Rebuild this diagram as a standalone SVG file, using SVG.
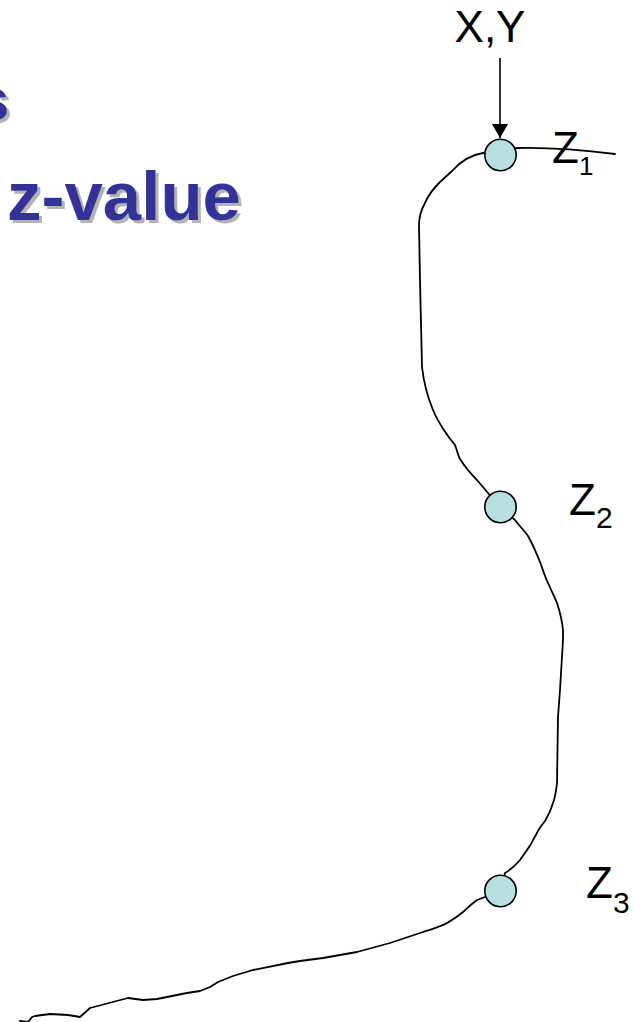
<svg xmlns="http://www.w3.org/2000/svg" width="634" height="1022" viewBox="0 0 634 1022">
<style>
.title{font-family:"Liberation Sans",Arial,sans-serif;font-weight:bold;fill:#333399;filter:url(#sh)}
.lbl{font-family:"Liberation Sans",Arial,sans-serif;fill:#000}
.node{fill:#b7dfe0;stroke:#000;stroke-width:1.6}
.curve{fill:none;stroke:#000;stroke-width:1.8;stroke-linejoin:round;stroke-linecap:round}
</style>
<defs>
<filter id="sh" x="-10%" y="-20%" width="130%" height="150%">
<feOffset in="SourceAlpha" dx="3" dy="3" result="o"/>
<feFlood flood-color="#b3b3b3"/>
<feComposite in2="o" operator="in" result="s"/>
<feMerge><feMergeNode in="s"/><feMergeNode in="SourceGraphic"/></feMerge>
</filter>
<marker id="ah" markerWidth="14" markerHeight="16" refX="14" refY="8" orient="auto" markerUnits="userSpaceOnUse" viewBox="0 0 14 16">
<path d="M0,0 L14,8 L0,16 Z" fill="#000"/>
</marker>
</defs>
<g id="title">
<text class="title" x="-24" y="120" font-size="60">s</text>
<text class="title" x="7" y="220" font-size="69">z-value</text>
</g>
<g id="connectors">
<path class="curve" d="M615,154 Q560,147 517,148 L500,150 L483,153 C470,155 460,162 452,171 L440,182 C432,190 427,198 425,203 C420,212 419,220 419,225 L420,280 L422,367 C424,385 428,398 433,410 C438,422 448,437 455,445 C457,450 458,455 460,459 C465,467 472,475 477,480 L488,493 L500,507 L515,520 C520,527 525,531 528,536 C532,543 536,552 540,562 C543,570 545,577 548,583 C552,592 555,598 557,603 C560,612 562,620 563,630 L563,640 L560,690 L558,717 L557,783 C556,792 555,798 553,803 C551,810 548,816 545,821 C541,826 538,830 537,833 L533,840 C531,845 529,847 527,850 L520,860 C515,866 510,870 505,873 L500,891 L485,897 L477,900 C470,905 468,908 463,912 C457,917 452,920 447,923 C440,927 432,929 423,932 L390,943 L357,952 L323,958 L300,961 L288,963 L253,970 L233,976 L218,982 L210,987 L200,991 L187,993 L172,996 L157,999 L143,1000 L128,998 L90,1008 L80,1017 L68,1015 L50,1014 L35,1016 L32,1017 L28,1022 L20,1021"/>
<line x1="500" y1="58" x2="500" y2="138" stroke="#000" stroke-width="1.6" marker-end="url(#ah)"/>
</g>
<g id="xy">
<text class="lbl" x="490" y="42" font-size="44" text-anchor="middle">X,Y</text>
</g>
<g id="z1">
<circle class="node" cx="500.5" cy="155" r="15.7"/>
<text class="lbl" x="552" y="163" font-size="44">Z<tspan font-size="26" dy="12">1</tspan></text>
</g>
<g id="z2">
<circle class="node" cx="500.5" cy="507" r="15.7"/>
<text class="lbl" x="569" y="515" font-size="44">Z<tspan font-size="30" dy="13">2</tspan></text>
</g>
<g id="z3">
<circle class="node" cx="500.5" cy="891" r="15.7"/>
<text class="lbl" x="586" y="898" font-size="44">Z<tspan font-size="30" dy="15">3</tspan></text>
</g>
</svg>
